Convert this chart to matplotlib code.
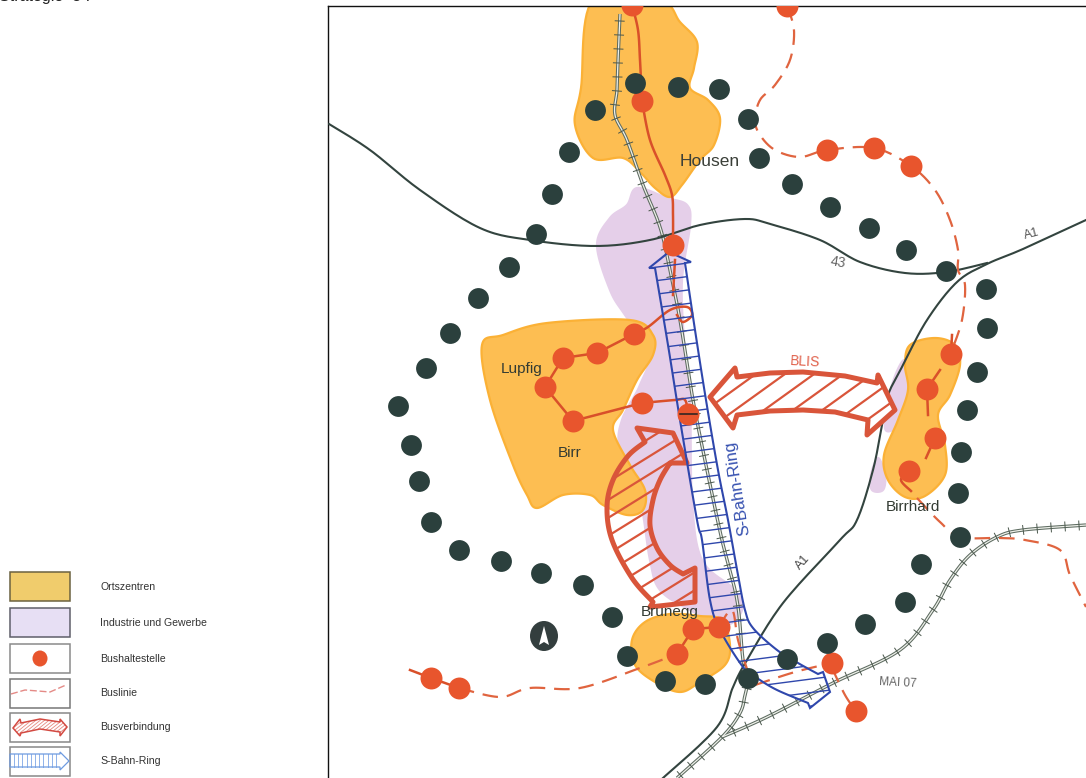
import numpy as np
import matplotlib
matplotlib.use("Agg")
import matplotlib.pyplot as plt
from matplotlib.patches import Polygon, Ellipse, Rectangle

plt.rcParams['font.family'] = ['Liberation Sans', 'DejaVu Sans']

# ---------- data (in page pixels) ----------
title_text = "Strategie  3 ."
legend_labels = ["Ortszentren", "Industrie und Gewerbe", "Bushaltestelle",
                 "Buslinie", "Busverbindung", "S-Bahn-Ring"]
legend_tops = [572, 608, 644, 679, 713, 747]

ring_dots = [(635,83),(678,87),(719,89),(748,119),(759,158),(792,184),(830,207),(869,228),
             (906,250),(946,271),(986,289),(987,328),(977,372),(967,410),(961,452),(958,493),
             (960,537),(921,564),(905,602),(865,624),(827,643),(787,659),(748,678),(705,684),
             (665,681),(627,656),(612,617),(583,585),(541,573),(501,561),(459,550),(431,522),
             (419,481),(411,445),(398,406),(426,368),(450,333),(478,298),(509,267),(536,234),
             (552,194),(569,152),(595,110)]
bus_stops = [(632,5),(642,101),(673,245),(787,6),(827,150),(874,148),(911,166),(634,334),
             (597,353),(563,358),(545,387),(573,421),(642,403),(688,414),(951,354),(927,389),
             (935,438),(909,471),(693,629),(719,627),(677,654),(431,678),(459,688),(832,663),(856,711)]

area_housen = [(593,0),(660,0),(680,22),(697,42),(694,68),(690,88),(708,100),(720,118),(714,145),
               (700,160),(682,185),(670,197),(655,188),(640,172),(623,158),(593,158),(575,125),(581,88)]
area_lupfig = [(482,345),(503,335),(547,323),(630,320),(653,335),(653,355),(637,380),(623,410),
               (613,430),(630,465),(645,490),(643,510),(627,515),(603,505),(590,495),(563,495),
               (537,508),(527,495),(513,465),(490,400)]
area_birrhard = [(910,345),(935,338),(955,345),(960,365),(950,395),(938,415),(945,445),(945,475),
                 (925,496),(905,497),(888,480),(884,455),(898,420),(908,390),(905,365)]
area_brunegg = [(645,622),(670,614),(700,616),(722,620),(730,645),(725,665),(700,682),(680,692),
                (655,682),(635,665),(632,640)]
area_industry = [(637,188),(667,198),(687,205),(690,225),(682,280),(684,340),(690,400),(692,500),
                 (702,560),(735,590),(742,610),(725,625),(690,610),(660,590),(650,560),(640,500),
                 (620,450),(622,420),(640,385),(650,350),(625,315),(610,290),(597,245),(610,218),(627,205)]
area_industry2 = [(905,360),(910,395),(898,425),(885,428),(892,385)]
area_industry3 = [(878,458),(885,475),(883,490),(872,490),(871,475)]

road_a3 = [(329,124),(370,150),(420,190),(480,228),(530,240),(595,246),(650,240),(700,225),(745,219),
           (770,224),(820,240),(860,262),(905,273),(946,272),(987,263)]
road_a1 = [(1086,220),(1023,249),(987,264),(957,282),(927,320),(903,365),(888,395),(882,425),(873,470),
           (857,520),(840,540),(783,603),(747,660),(733,687),(717,727),(663,778)]
rail_main = [(620,14),(618,60),(617,90),(615,115),(627,140),(643,185),(660,227),(670,270),(680,320),
             (693,400),(707,470),(722,540),(737,600),(743,660),(748,678),(745,695),(740,713),(722,737),(677,778)]
rail_branch = [(1086,525),(1023,530),(997,537),(970,555),(950,580),(933,610),(900,650),(833,683),(767,717),(722,737)]

bus_solid = [[(632,5),(638,30),(640,60),(642,101)],
             [(642,101),(650,140),(665,175),(672,195),(673,215),(673,245)],
             [(675,260),(673,295)],
             [(634,334),(597,353)],[(597,353),(563,358)],[(563,358),(545,387)],[(545,387),(573,421)],
             [(573,421),(642,403)],[(642,403),(675,400),(685,400),(688,414)],
             [(634,334),(648,327),(670,310),(687,307),(692,315),(683,322),(677,315)],
             [(951,354),(952,335)],[(927,389),(940,370)],[(927,389),(928,415)],
             [(935,438),(926,458)],[(909,471),(901,480),(911,491)],
             [(693,629),(719,627)],[(693,629),(677,654)],[(431,678),(459,688)],[(410,670),(431,678)]]
bus_dashed = [[(787,6),(794,30),(790,60),(775,85),(760,100),(755,120),(760,135),(775,150),(800,157),(827,150),
               (874,148),(911,166),(935,190),(950,220),(958,250),(958,270),(965,285),(962,320),(952,350)],
              [(917,498),(940,522),(960,537),(1000,538),(1025,540),(1060,550),(1070,575),(1086,607)],
              [(459,688),(500,697),(530,688),(580,688),(640,668),(677,654)],
              [(719,627),(732,610),(738,640),(748,672)],
              [(755,685),(795,672),(832,663)],
              [(832,668),(845,695),(856,711)]]

# arrows: each list is one edge of the outline; edges are smoothed, then joined
blis_edges = [[(710,397),(735,368),(737,377)],
              [(737,377),(770,373),(803,372),(845,376),(877,383)],
              [(877,383),(878,375),(895,410),(867,435),(868,420)],
              [(868,420),(835,412),(803,410),(770,411),(737,415)],
              [(737,415),(733,428),(710,397)]]
curve_edges = [[(645,442),(637,428),(673,433),(687,463),(670,463)],
               [(670,463),(660,480),(653,500),(650,525),(657,548),(670,565),(683,574)],
               [(683,574),(695,568),(695,602),(650,607),(653,602)],
               [(653,602),(632,578),(612,540),(607,507),(613,480),(628,456),(645,442)]]
sbahn_edges = [[(649,268),(669,252),(691,262),(685,263)],
               [(685,263),(695,330),(706,400),(718,470),(728,520),(738,575),(745,610),(753,628),(777,650),(798,663),(818,674)],
               [(818,674),(823,672),(830,692),(810,708),(808,703)],
               [(808,703),(777,690),(757,678),(743,667),(720,630),(710,600),(702,540),(697,520),(680,420),(668,345),(655,268)],
               [(655,268),(649,268)]]

map_labels = [("Housen",710,161,12.5,0,'#3a3f38'),("Lupfig",522,369,11,0,'#333b33'),
              ("Birr",570,453,11,0,'#333b33'),("Birrhard",913,507,11,0,'#333b33'),
              ("Brunegg",670,612,11,0,'#333b33'),("S-Bahn-Ring",737,488,12,99,'#3550b0'),
              ("A1",1032,234,9,15,'#555555'),("A1",803,562,9,48,'#444444'),("43",838,262,10,-10,'#666666'),
              ("BLIS",805,362,10,-3,'#e0604a'),("MAI 07",898,683,8.5,-3,'#666666')]

YELLOW, YEDGE = '#FDBE52', '#FBB136'
PURPLE = '#E5CFE9'
RED, REDLINE, DASH = '#E8552D', '#D9502A', '#E0643F'
DARK = '#2B403D'
BLUE = '#2F47AC'
ARROWRED = '#D9553A'

# ---------- helpers ----------
def smooth(pts, closed=False, n=14):
    p = np.asarray(pts, float)
    if closed:
        p = np.vstack([p[-1], p, p[0], p[1]])
    else:
        p = np.vstack([p[0], p, p[-1]])
    out = []
    for i in range(1, len(p) - 2):
        t = np.linspace(0, 1, n, endpoint=False)[:, None]
        a, b, c, d = p[i-1], p[i], p[i+1], p[i+2]
        out.append(0.5*((2*b) + (-a+c)*t + (2*a-5*b+4*c-d)*t**2 + (-a+3*b-3*c+d)*t**3))
    out = np.vstack(out)
    return np.vstack([out, p[-2]]) if not closed else out

def outline(edges):
    parts = []
    for e in edges:
        # edges with few points are corners of a head: keep them straight
        parts.append(np.asarray(e, float) if len(e) <= 5 and e[0][0] != 670 and e[0][0] != 653 else smooth(e))
    return np.vstack(parts)

def area(ax, pts, face, edge=None, z=1):
    ax.add_patch(Polygon(smooth(pts, True), closed=True, fc=face, ec=edge or face, lw=1.6, zorder=z))

def rail(ax, pts, step=14.0, z=4):
    s = smooth(pts)
    ax.plot(s[:,0], s[:,1], color='#5d6b60', lw=2.4, zorder=z, solid_capstyle='butt')
    ax.plot(s[:,0], s[:,1], color='#eef0ea', lw=0.9, zorder=z+.1, solid_capstyle='butt')
    d = np.r_[0, np.cumsum(np.hypot(*np.diff(s, axis=0).T))]
    for q in np.arange(step/2, d[-1], step):
        x, y = np.interp(q, d, s[:,0]), np.interp(q, d, s[:,1])
        x2, y2 = np.interp(q+1, d, s[:,0]), np.interp(q+1, d, s[:,1])
        nx, ny = -(y2-y), (x2-x)
        ax.plot([x-nx*4.5, x+nx*4.5], [y-ny*4.5, y+ny*4.5], color='#4a574c', lw=0.7, zorder=z+.2)

def hatch(ax, poly, color, slope, spacing, lw, z):
    poly = np.asarray(poly, float)
    patch = Polygon(poly, closed=True, fc='none', ec='none', zorder=z)
    ax.add_patch(patch)
    cx = poly[:,0].mean()
    c = poly[:,1] - slope*(poly[:,0]-cx)
    xs = np.array([poly[:,0].min()-2, poly[:,0].max()+2])
    for y0 in np.arange(c.min(), c.max(), spacing):
        ln, = ax.plot(xs, y0 + slope*(xs-cx), color=color, lw=lw, zorder=z, solid_capstyle='butt')
        ln.set_clip_path(patch)

# ---------- page ----------
fig = plt.figure(figsize=(10.86, 7.78), dpi=100, facecolor='white')
page = fig.add_axes([0, 0, 1, 1])
page.set_xlim(0, 1086); page.set_ylim(778, 0); page.axis('off')

page.text(-1, 1, title_text, fontsize=11.5, color='#222222', ha='left', va='baseline', clip_on=False)

# legend
swatch_face = ['#F0CC6C', '#E7DFF4', 'white', 'white', 'white', 'white']
swatch_edge = ['#6b6240', '#5f5f6a', '#8a8a8a', '#777777', '#888888', '#888888']
for top, lab, fc, ec in zip(legend_tops, legend_labels, swatch_face, swatch_edge):
    page.add_patch(Rectangle((9.5, top), 60.5, 28.5, fc=fc, ec=ec, lw=1.1))
    page.text(100.5, top+14.5, lab, fontsize=7.6, color='#333333', va='center', ha='left')
page.add_patch(Ellipse((40, 658.5), 15, 16, fc=RED, ec='none'))
page.plot([11, 25, 38, 50, 66], [694, 690, 691, 692, 685], color='#E48A86', lw=1.0, ls=(0, (5, 2)))
leg_bus = [(13,728),(20,719),(21,723),(40,719),(60,722),(60,719),(67,727),(60,736),(60,732),(40,729),(21,733),(20,736)]
hatch(page, leg_bus, '#E58A80', -0.8, 3.5, 0.6, 3)
page.add_patch(Polygon(leg_bus, closed=True, fc='none', ec='#D34A42', lw=1.1, zorder=4))
leg_sbahn = [(10,754),(60,754),(60,752),(69,761),(60,770),(60,767),(10,767)]
page.add_patch(Polygon(leg_sbahn, closed=True, fc='none', ec='#6E9BE0', lw=0.9, zorder=4))
for x in np.arange(14, 60, 4.2):
    page.plot([x, x], [754, 767], color='#8FB2EA', lw=0.7, zorder=3)

# ---------- map ----------
ax = fig.add_axes([328/1086, 0, (1086-328)/1086, 772/778])
ax.set_xlim(328, 1086); ax.set_ylim(778, 6)
ax.set_xticks([]); ax.set_yticks([])
for side in ('right', 'bottom'):
    ax.spines[side].set_visible(False)
for side in ('left', 'top'):
    ax.spines[side].set_color('#111111'); ax.spines[side].set_linewidth(1.0)

for a in (area_industry, area_industry2, area_industry3):
    area(ax, a, PURPLE, z=1)
for a in (area_lupfig, area_housen, area_birrhard, area_brunegg):
    area(ax, a, YELLOW, YEDGE, z=2)

for road in (road_a3, road_a1):
    s = smooth(road)
    ax.plot(s[:,0], s[:,1], color='#33443F', lw=1.5, zorder=5)

rail(ax, rail_main)
rail(ax, rail_branch)

for seg in bus_solid:
    s = smooth(seg)
    ax.plot(s[:,0], s[:,1], color=REDLINE, lw=1.8, zorder=6)
for seg in bus_dashed:
    s = smooth(seg)
    ax.plot(s[:,0], s[:,1], color=DASH, lw=1.6, ls=(0, (7, 4)), zorder=6)

# arrows
arrow_blis = outline(blis_edges)
arrow_curve = outline(curve_edges)
arrow_sbahn = outline(sbahn_edges)
ax.add_patch(Polygon(arrow_blis, closed=True, fc='white', ec='none', zorder=6.5))
hatch(ax, arrow_blis, ARROWRED, -0.72, 21, 1.6, 7)
ax.add_patch(Polygon(arrow_blis, closed=True, fc='none', ec=ARROWRED, lw=3.6, joinstyle='round', zorder=8))
hatch(ax, arrow_curve, ARROWRED, -0.62, 18, 1.6, 7)
ax.add_patch(Polygon(arrow_curve, closed=True, fc='none', ec=ARROWRED, lw=3.6, joinstyle='round', zorder=8))
hatch(ax, arrow_sbahn, BLUE, -0.13, 13.5, 1.0, 7)
ax.add_patch(Polygon(arrow_sbahn, closed=True, fc='none', ec=BLUE, lw=1.5, joinstyle='miter', zorder=8))

sx, sy = zip(*bus_stops)
ax.scatter(sx, sy, s=15.8**2, c=RED, linewidths=0, zorder=9)
dx, dy = zip(*ring_dots)
ax.scatter(dx, dy, s=15**2, c=DARK, linewidths=0, zorder=10)
ax.plot([680, 697], [414, 414], color='#222222', lw=1.1, zorder=11)

# north arrow
ax.add_patch(Ellipse((544, 636), 28, 30, fc='#333E3E', ec='none', zorder=10))
ax.add_patch(Polygon([(544,626),(549,645),(544,642),(539,645)], closed=True, fc='white', ec='none', zorder=11))

for txt, x, y, fs, rot, col in map_labels:
    ax.text(x, y, txt, fontsize=fs, rotation=rot, color=col, ha='center', va='center',
            rotation_mode='anchor', zorder=12)

fig.savefig('out.png', dpi=100)
